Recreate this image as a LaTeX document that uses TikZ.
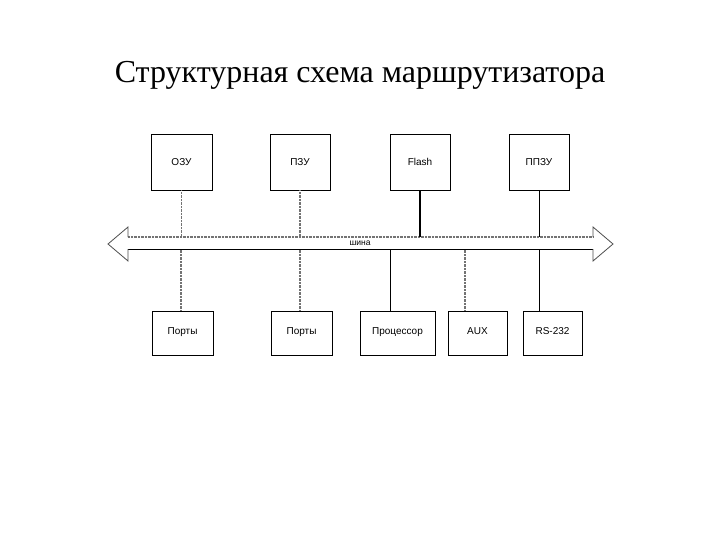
\documentclass[tikz,border=0pt]{standalone}
\usepackage{fontspec}
\setmainfont{Liberation Serif}
\newfontfamily\boxfont{Liberation Sans}
\begin{document}
\begin{tikzpicture}[x=1pt,y=-1pt,
  blk/.style={draw=black,line width=0.9pt,inner sep=0pt,font=\boxfont\fontsize{10}{11}\selectfont},
  solidc/.style={draw=black,line width=0.9pt},
  dotc/.style={draw=black!55,line width=1.6pt,dash pattern=on 0.8pt off 0.6pt},
  thickc/.style={draw=black,line width=1.6pt}]
\useasboundingbox (0,0) rectangle (720,540);
\node[font=\fontsize{32}{36}\selectfont] (title) at (360,75) {Структурная схема маршрутизатора};
% top row
\node[blk,minimum width=61pt,minimum height=56pt] (ozu) at (181.5,162) {ОЗУ};
\node[blk,minimum width=60pt,minimum height=56pt] (pzu) at (300,162) {ПЗУ};
\node[blk,minimum width=60pt,minimum height=56pt] (flash) at (420,162) {Flash};
\node[blk,minimum width=60pt,minimum height=56pt] (ppzu) at (539,162) {ППЗУ};
% bottom row
\node[blk,minimum width=61pt,minimum height=44pt,text depth=4pt] (port1) at (182.5,333) {Порты};
\node[blk,minimum width=61pt,minimum height=44pt,text depth=4pt] (port2) at (301.5,333) {Порты};
\node[blk,minimum width=75pt,minimum height=44pt,text depth=4pt] (cpu) at (397.5,333) {Процессор};
\node[blk,minimum width=59pt,minimum height=44pt,text depth=4pt] (aux) at (477.5,333) {AUX};
\node[blk,minimum width=59pt,minimum height=44pt,text depth=4pt] (rs) at (552.5,333) {RS-232};
% bus
\coordinate (lt) at (128,237);
\coordinate (rt) at (593,237);
\coordinate (lb) at (128,249);
\coordinate (rb) at (593,249);
\coordinate (ltip) at (108,244);
\coordinate (rtip) at (613,244);
\draw[dotc] (lt) -- (rt);
\draw[solidc] (lb) -- (rb);
\draw[draw=black!70,line width=0.8pt] (lt) -- ++(0,-10) -- (ltip) -- ++(20,17) -- (lb);
\draw[draw=black!70,line width=0.8pt] (rt) -- ++(0,-10) -- (rtip) -- ++(-20,17) -- (rb);
\node[font=\boxfont\fontsize{8.5}{9}\selectfont,inner sep=1pt] (bus) at (360,243) {шина};
% connectors top
\draw[dotc] (ozu.south) -- (ozu.south |- lt);
\draw[dotc] (pzu.south) -- (pzu.south |- lt);
\draw[thickc] (flash.south) -- (flash.south |- lt);
\draw[solidc] (ppzu.south) -- (ppzu.south |- lt);
% connectors bottom
\draw[dotc] (port1.north -| 181,0) -- (181,249);
\draw[dotc] (port2.north -| 300,0) -- (300,249);
\draw[solidc] (cpu.north -| 390,0) -- (390,249);
\draw[dotc] (aux.north -| 465,0) -- (465,249);
\draw[solidc] (rs.north -| 539,0) -- (539,249);
\end{tikzpicture}
\end{document}
